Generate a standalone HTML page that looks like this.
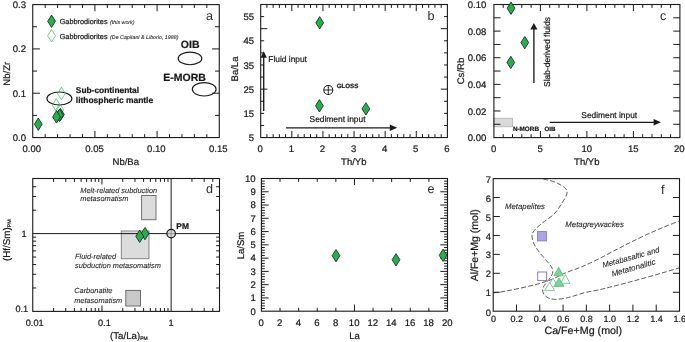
<!DOCTYPE html>
<html lang="en">
<head>
<meta charset="utf-8">
<title>Gabbrodiorites trace-element diagrams</title>
<style>
html,body{margin:0;padding:0;background:#fff;}
body{width:685px;height:342px;overflow:hidden;}
svg{display:block;will-change:transform;font-family:'Liberation Sans', sans-serif;fill:#1a1a1a;text-rendering:geometricPrecision;}
text{stroke:#1a1a1a;stroke-width:0.22px;}
.it{stroke-width:0.1px;fill:#2a2a2a;stroke:#2a2a2a;}
.pl{stroke:none;fill:#2c2c2c;}
</style>
</head>
<body>
<svg width="685" height="342" viewBox="0 0 685 342">
<rect width="685" height="342" fill="#fff"/>
<defs><filter id="soft" x="0" y="0" width="100%" height="100%" filterUnits="userSpaceOnUse" color-interpolation-filters="sRGB"><feGaussianBlur stdDeviation="0.33"/></filter></defs>
<g filter="url(#soft)">
<path d="M45.18 137.55L45.18 134.15M45.18 4.6L45.18 8M57.62 137.55L57.62 134.15M57.62 4.6L57.62 8M70.05 137.55L70.05 134.15M70.05 4.6L70.05 8M82.48 137.55L82.48 134.15M82.48 4.6L82.48 8M107.35 137.55L107.35 134.15M107.35 4.6L107.35 8M119.78 137.55L119.78 134.15M119.78 4.6L119.78 8M132.22 137.55L132.22 134.15M132.22 4.6L132.22 8M144.65 137.55L144.65 134.15M144.65 4.6L144.65 8M169.52 137.55L169.52 134.15M169.52 4.6L169.52 8M181.95 137.55L181.95 134.15M181.95 4.6L181.95 8M194.38 137.55L194.38 134.15M194.38 4.6L194.38 8M206.82 137.55L206.82 134.15M206.82 4.6L206.82 8M94.92 137.55L94.92 130.95M94.92 4.6L94.92 11.2M157.08 137.55L157.08 130.95M157.08 4.6L157.08 11.2M32.75 115.39L36.95 115.39M219.25 115.39L215.05 115.39M32.75 71.08L36.95 71.08M219.25 71.08L215.05 71.08M32.75 26.76L36.95 26.76M219.25 26.76L215.05 26.76M32.75 93.23L39.95 93.23M219.25 93.23L212.05 93.23M32.75 48.92L39.95 48.92M219.25 48.92L212.05 48.92" stroke="#1a1a1a" stroke-width="1" fill="none"/>
<rect x="32.75" y="4.6" width="186.5" height="132.95" fill="none" stroke="#1a1a1a" stroke-width="1.1"/>
<text x="31.8" y="151.6" font-size="9.55" text-anchor="middle">0.00</text>
<text x="94.5" y="151.6" font-size="9.55" text-anchor="middle">0.05</text>
<text x="156.4" y="151.6" font-size="9.55" text-anchor="middle">0.10</text>
<text x="218.3" y="151.6" font-size="9.55" text-anchor="middle">0.15</text>
<text x="26" y="140.95" font-size="9.55" text-anchor="end">0.0</text>
<text x="26" y="96.63" font-size="9.55" text-anchor="end">0.1</text>
<text x="26" y="52.32" font-size="9.55" text-anchor="end">0.2</text>
<text x="26" y="8" font-size="9.55" text-anchor="end">0.3</text>
<text x="125.8" y="165.1" font-size="9.55" text-anchor="middle">Nb/Ba</text>
<text x="10" y="73.7" font-size="9.55" text-anchor="middle" transform="rotate(-90 10 73.7)">Nb/Zr</text>
<text x="206" y="19.7" font-size="12.6" class="pl">a</text>
<path d="M51.55 15.05L55.45 21.25L51.55 27.45L47.65 21.25Z" fill="#22b14c" stroke="#1c1c1c" stroke-width="0.8"/>
<path d="M51.55 29.6L55.45 35.8L51.55 42L47.65 35.8Z" fill="#fff" stroke="#3cb860" stroke-width="0.7"/>
<text x="59.7" y="24" font-size="7.3">Gabbrodiorites</text>
<text x="59.7" y="38.9" font-size="7.3">Gabbrodiorites</text>
<text x="110.1" y="24" font-size="5.3" font-style="italic" class="it">(this work)</text>
<text x="110.1" y="38.9" font-size="5.3" font-style="italic" class="it">(De Capitani &amp; Liborio, 1988)</text>
<ellipse cx="190" cy="58.4" rx="11.8" ry="6.3" fill="none" stroke="#1a1a1a" stroke-width="1.15"/>
<ellipse cx="204.2" cy="89.3" rx="11.9" ry="6.7" fill="none" stroke="#1a1a1a" stroke-width="1.15"/>
<ellipse cx="59.4" cy="98.5" rx="12.5" ry="6.5" fill="none" stroke="#1a1a1a" stroke-width="1.15"/>
<text x="180.8" y="47.6" font-size="10.5" font-weight="bold">OIB</text>
<text x="163.3" y="80.7" font-size="10.5" font-weight="bold">E-MORB</text>
<text x="75.8" y="93.2" font-size="8.4" font-weight="bold">Sub-continental</text>
<text x="75.8" y="103.3" font-size="8.45" font-weight="bold">lithospheric mantle</text>
<path d="M61.4 87.3L65.3 93.5L61.4 99.7L57.5 93.5Z" fill="none" stroke="#3cb860" stroke-width="0.7"/>
<path d="M56.2 98.8L60.1 105L56.2 111.2L52.3 105Z" fill="none" stroke="#3cb860" stroke-width="0.7"/>
<path d="M59.8 103.7L63.7 109.9L59.8 116.1L55.9 109.9Z" fill="none" stroke="#3cb860" stroke-width="0.7"/>
<path d="M38.3 118L42.2 124.2L38.3 130.4L34.4 124.2Z" fill="#22b14c" stroke="#1c1c1c" stroke-width="0.8"/>
<path d="M60.4 108.3L64.3 114.5L60.4 120.7L56.5 114.5Z" fill="#22b14c" stroke="#1c1c1c" stroke-width="0.8"/>
<path d="M59.5 109.1L63.4 115.3L59.5 121.5L55.6 115.3Z" fill="#22b14c" stroke="#1c1c1c" stroke-width="0.8"/>
<path d="M56.5 110.7L60.4 116.9L56.5 123.1L52.6 116.9Z" fill="#22b14c" stroke="#1c1c1c" stroke-width="0.8"/>
<path d="M266.92 137.55L266.92 134.15M266.92 4.5L266.92 7.9M273.15 137.55L273.15 134.15M273.15 4.5L273.15 7.9M279.37 137.55L279.37 134.15M279.37 4.5L279.37 7.9M285.59 137.55L285.59 134.15M285.59 4.5L285.59 7.9M298.04 137.55L298.04 134.15M298.04 4.5L298.04 7.9M304.26 137.55L304.26 134.15M304.26 4.5L304.26 7.9M310.49 137.55L310.49 134.15M310.49 4.5L310.49 7.9M316.71 137.55L316.71 134.15M316.71 4.5L316.71 7.9M329.16 137.55L329.16 134.15M329.16 4.5L329.16 7.9M335.38 137.55L335.38 134.15M335.38 4.5L335.38 7.9M341.6 137.55L341.6 134.15M341.6 4.5L341.6 7.9M347.83 137.55L347.83 134.15M347.83 4.5L347.83 7.9M360.27 137.55L360.27 134.15M360.27 4.5L360.27 7.9M366.5 137.55L366.5 134.15M366.5 4.5L366.5 7.9M372.72 137.55L372.72 134.15M372.72 4.5L372.72 7.9M378.94 137.55L378.94 134.15M378.94 4.5L378.94 7.9M391.39 137.55L391.39 134.15M391.39 4.5L391.39 7.9M397.61 137.55L397.61 134.15M397.61 4.5L397.61 7.9M403.84 137.55L403.84 134.15M403.84 4.5L403.84 7.9M410.06 137.55L410.06 134.15M410.06 4.5L410.06 7.9M422.51 137.55L422.51 134.15M422.51 4.5L422.51 7.9M428.73 137.55L428.73 134.15M428.73 4.5L428.73 7.9M434.95 137.55L434.95 134.15M434.95 4.5L434.95 7.9M441.18 137.55L441.18 134.15M441.18 4.5L441.18 7.9M291.82 137.55L291.82 130.95M291.82 4.5L291.82 11.1M322.93 137.55L322.93 130.95M322.93 4.5L322.93 11.1M354.05 137.55L354.05 130.95M354.05 4.5L354.05 11.1M385.17 137.55L385.17 130.95M385.17 4.5L385.17 11.1M416.28 137.55L416.28 130.95M416.28 4.5L416.28 11.1M260.7 125.45L264.1 125.45M447.4 125.45L444 125.45M260.7 113.36L264.1 113.36M447.4 113.36L444 113.36M260.7 101.26L264.1 101.26M447.4 101.26L444 101.26M260.7 77.07L264.1 77.07M447.4 77.07L444 77.07M260.7 64.98L264.1 64.98M447.4 64.98L444 64.98M260.7 52.88L264.1 52.88M447.4 52.88L444 52.88M260.7 40.79L264.1 40.79M447.4 40.79L444 40.79M260.7 16.6L264.1 16.6M447.4 16.6L444 16.6M260.7 89.17L267.3 89.17M447.4 89.17L440.8 89.17M260.7 28.69L267.3 28.69M447.4 28.69L440.8 28.69" stroke="#1a1a1a" stroke-width="1" fill="none"/>
<rect x="260.7" y="4.5" width="186.7" height="133.05" fill="none" stroke="#1a1a1a" stroke-width="1.1"/>
<text x="260.2" y="151.6" font-size="9.55" text-anchor="middle">0</text>
<text x="291.32" y="151.6" font-size="9.55" text-anchor="middle">1</text>
<text x="322.43" y="151.6" font-size="9.55" text-anchor="middle">2</text>
<text x="353.55" y="151.6" font-size="9.55" text-anchor="middle">3</text>
<text x="384.67" y="151.6" font-size="9.55" text-anchor="middle">4</text>
<text x="415.78" y="151.6" font-size="9.55" text-anchor="middle">5</text>
<text x="446.9" y="151.6" font-size="9.55" text-anchor="middle">6</text>
<text x="254" y="141.15" font-size="9.55" text-anchor="end">5</text>
<text x="254" y="116.96" font-size="9.55" text-anchor="end">15</text>
<text x="254" y="92.77" font-size="9.55" text-anchor="end">25</text>
<text x="254" y="68.58" font-size="9.55" text-anchor="end">35</text>
<text x="254" y="44.39" font-size="9.55" text-anchor="end">45</text>
<text x="254" y="20.2" font-size="9.55" text-anchor="end">55</text>
<text x="353.8" y="165.1" font-size="9.55" text-anchor="middle">Th/Yb</text>
<text x="238" y="69" font-size="9.55" text-anchor="middle" transform="rotate(-90 238 69)">Ba/La</text>
<text x="427.4" y="19.7" font-size="12.6" class="pl">b</text>
<line x1="263.7" y1="111" x2="263.7" y2="56.8" stroke="#1a1a1a" stroke-width="1.35"/>
<path d="M263.7 51.3L260.5 57.8L266.9 57.8Z" fill="#1a1a1a"/>
<text x="268.3" y="61.9" font-size="8.4">Fluid input</text>
<line x1="285.9" y1="127.8" x2="390.8" y2="127.8" stroke="#1a1a1a" stroke-width="1.2"/>
<path d="M397.2 127.8L389.8 124.6L389.8 131Z" fill="#1a1a1a"/>
<text x="309.6" y="122.2" font-size="8.4">Sediment input</text>
<circle cx="328.3" cy="90" r="4.5" fill="#fff" stroke="#1a1a1a" stroke-width="1.05"/>
<line x1="323.8" y1="90" x2="332.8" y2="90" stroke="#1a1a1a" stroke-width="0.9"/>
<line x1="328.3" y1="85.5" x2="328.3" y2="94.5" stroke="#1a1a1a" stroke-width="0.9"/>
<text x="336.7" y="88" font-size="6.2" font-weight="bold">GLOSS</text>
<path d="M319.7 16.6L323.6 22.8L319.7 29L315.8 22.8Z" fill="#22b14c" stroke="#1c1c1c" stroke-width="0.8"/>
<path d="M319.4 99.6L323.3 105.8L319.4 112L315.5 105.8Z" fill="#22b14c" stroke="#1c1c1c" stroke-width="0.8"/>
<path d="M365.9 102.7L369.8 108.9L365.9 115.1L362 108.9Z" fill="#22b14c" stroke="#1c1c1c" stroke-width="0.8"/>
<rect x="493.9" y="118.2" width="18.5" height="8.6" fill="#dadada" stroke="#a8a8a8" stroke-width="0.7"/>
<path d="M503.2 137.6L503.2 134.2M503.2 4.5L503.2 7.9M512.5 137.6L512.5 134.2M512.5 4.5L512.5 7.9M521.8 137.6L521.8 134.2M521.8 4.5L521.8 7.9M531.1 137.6L531.1 134.2M531.1 4.5L531.1 7.9M549.7 137.6L549.7 134.2M549.7 4.5L549.7 7.9M559 137.6L559 134.2M559 4.5L559 7.9M568.3 137.6L568.3 134.2M568.3 4.5L568.3 7.9M577.6 137.6L577.6 134.2M577.6 4.5L577.6 7.9M596.2 137.6L596.2 134.2M596.2 4.5L596.2 7.9M605.5 137.6L605.5 134.2M605.5 4.5L605.5 7.9M614.8 137.6L614.8 134.2M614.8 4.5L614.8 7.9M624.1 137.6L624.1 134.2M624.1 4.5L624.1 7.9M642.7 137.6L642.7 134.2M642.7 4.5L642.7 7.9M652 137.6L652 134.2M652 4.5L652 7.9M661.3 137.6L661.3 134.2M661.3 4.5L661.3 7.9M670.6 137.6L670.6 134.2M670.6 4.5L670.6 7.9M540.4 137.6L540.4 131M540.4 4.5L540.4 11.1M586.9 137.6L586.9 131M586.9 4.5L586.9 11.1M633.4 137.6L633.4 131M633.4 4.5L633.4 11.1M493.9 124.29L500.5 124.29M679.9 124.29L673.3 124.29M493.9 110.98L500.5 110.98M679.9 110.98L673.3 110.98M493.9 97.67L500.5 97.67M679.9 97.67L673.3 97.67M493.9 84.36L500.5 84.36M679.9 84.36L673.3 84.36M493.9 71.05L500.5 71.05M679.9 71.05L673.3 71.05M493.9 57.74L500.5 57.74M679.9 57.74L673.3 57.74M493.9 44.43L500.5 44.43M679.9 44.43L673.3 44.43M493.9 31.12L500.5 31.12M679.9 31.12L673.3 31.12M493.9 17.81L500.5 17.81M679.9 17.81L673.3 17.81" stroke="#1a1a1a" stroke-width="1" fill="none"/>
<rect x="493.9" y="4.5" width="186" height="133.1" fill="none" stroke="#1a1a1a" stroke-width="1.1"/>
<text x="493.7" y="151.6" font-size="9.55" text-anchor="middle">0</text>
<text x="540.2" y="151.6" font-size="9.55" text-anchor="middle">5</text>
<text x="586.7" y="151.6" font-size="9.55" text-anchor="middle">10</text>
<text x="633.2" y="151.6" font-size="9.55" text-anchor="middle">15</text>
<text x="684.6" y="151.6" font-size="9.55" text-anchor="end">20</text>
<text x="486.4" y="141.2" font-size="9.55" text-anchor="end">0.00</text>
<text x="486.4" y="114.58" font-size="9.55" text-anchor="end">0.02</text>
<text x="486.4" y="87.96" font-size="9.55" text-anchor="end">0.04</text>
<text x="486.4" y="61.34" font-size="9.55" text-anchor="end">0.06</text>
<text x="486.4" y="34.72" font-size="9.55" text-anchor="end">0.08</text>
<text x="486.4" y="8.1" font-size="9.55" text-anchor="end">0.10</text>
<text x="586.8" y="165.1" font-size="9.55" text-anchor="middle">Th/Yb</text>
<text x="464.2" y="71" font-size="9.55" text-anchor="middle" transform="rotate(-90 464.2 71)">Cs/Rb</text>
<text x="660.1" y="19.7" font-size="12.6" class="pl">c</text>
<line x1="533.9" y1="82.9" x2="533.9" y2="28.4" stroke="#1a1a1a" stroke-width="1.35"/>
<path d="M533.9 22.9L530.3 29.4L537.5 29.4Z" fill="#1a1a1a"/>
<text x="550.1" y="87" font-size="8.5" transform="rotate(-90 550.1 87)">Slab-derived fluids</text>
<line x1="549.7" y1="122.3" x2="654.6" y2="122.3" stroke="#1a1a1a" stroke-width="1.2"/>
<path d="M661 122.3L653.6 119.1L653.6 125.5Z" fill="#1a1a1a"/>
<text x="581.3" y="117.6" font-size="8.4">Sediment input</text>
<text x="512.9" y="130.5" font-size="6.35" font-weight="bold">N-MORB</text>
<text x="544.5" y="130.5" font-size="6.2" font-weight="bold">OIB</text>
<path d="M511 2L514.9 8.2L511 14.4L507.1 8.2Z" fill="#22b14c" stroke="#1c1c1c" stroke-width="0.8"/>
<path d="M524.8 36.4L528.7 42.6L524.8 48.8L520.9 42.6Z" fill="#22b14c" stroke="#1c1c1c" stroke-width="0.8"/>
<path d="M510.8 56.2L514.7 62.4L510.8 68.6L506.9 62.4Z" fill="#22b14c" stroke="#1c1c1c" stroke-width="0.8"/>
<rect x="141.6" y="195.5" width="14.4" height="24.2" fill="#dcdcdc" stroke="#6c6c6c" stroke-width="0.95"/>
<rect x="121.3" y="231.0" width="27.7" height="27.7" fill="#dcdcdc" stroke="#7a7a7a" stroke-width="0.9"/>
<rect x="125.8" y="290.4" width="14.7" height="15.6" fill="#c9c9c9" stroke="#666" stroke-width="0.95"/>
<path d="M53.58 311.4L53.58 308M53.58 178.5L53.58 181.9M65.77 311.4L65.77 308M65.77 178.5L65.77 181.9M74.41 311.4L74.41 308M74.41 178.5L74.41 181.9M81.12 311.4L81.12 308M81.12 178.5L81.12 181.9M86.6 311.4L86.6 308M86.6 178.5L86.6 181.9M91.23 311.4L91.23 308M91.23 178.5L91.23 181.9M95.24 311.4L95.24 308M95.24 178.5L95.24 181.9M98.78 311.4L98.78 308M98.78 178.5L98.78 181.9M122.78 311.4L122.78 308M122.78 178.5L122.78 181.9M134.97 311.4L134.97 308M134.97 178.5L134.97 181.9M143.61 311.4L143.61 308M143.61 178.5L143.61 181.9M150.32 311.4L150.32 308M150.32 178.5L150.32 181.9M155.8 311.4L155.8 308M155.8 178.5L155.8 181.9M160.43 311.4L160.43 308M160.43 178.5L160.43 181.9M164.44 311.4L164.44 308M164.44 178.5L164.44 181.9M167.98 311.4L167.98 308M167.98 178.5L167.98 181.9M191.98 311.4L191.98 308M191.98 178.5L191.98 181.9M204.17 311.4L204.17 308M204.17 178.5L204.17 181.9M212.81 311.4L212.81 308M212.81 178.5L212.81 181.9M101.95 311.4L101.95 305.4M101.95 178.5L101.95 184.5M32.75 287.98L36.15 287.98M219.5 287.98L216.1 287.98M32.75 274.28L36.15 274.28M219.5 274.28L216.1 274.28M32.75 264.56L36.15 264.56M219.5 264.56L216.1 264.56M32.75 257.02L36.15 257.02M219.5 257.02L216.1 257.02M32.75 250.86L36.15 250.86M219.5 250.86L216.1 250.86M32.75 245.65L36.15 245.65M219.5 245.65L216.1 245.65M32.75 241.14L36.15 241.14M219.5 241.14L216.1 241.14M32.75 237.16L36.15 237.16M219.5 237.16L216.1 237.16M32.75 210.18L36.15 210.18M219.5 210.18L216.1 210.18M32.75 196.48L36.15 196.48M219.5 196.48L216.1 196.48M32.75 186.76L36.15 186.76M219.5 186.76L216.1 186.76" stroke="#1a1a1a" stroke-width="1" fill="none"/>
<line x1="171.15" y1="178.5" x2="171.15" y2="311.4" stroke="#1a1a1a" stroke-width="1"/>
<line x1="32.75" y1="233.6" x2="219.5" y2="233.6" stroke="#1a1a1a" stroke-width="1"/>
<circle cx="171.15" cy="233.6" r="4.3" fill="#c8c8c8" fill-opacity="0.72" stroke="#1a1a1a" stroke-width="1.2"/>
<rect x="32.75" y="178.5" width="186.75" height="132.9" fill="none" stroke="#1a1a1a" stroke-width="1.1"/>
<text x="34.7" y="325.6" font-size="9.2" text-anchor="middle">0.01</text>
<text x="104.4" y="325.6" font-size="9.2" text-anchor="middle">0.1</text>
<text x="171" y="325.6" font-size="9.2" text-anchor="middle">1</text>
<text x="26.5" y="236.5" font-size="9.2" text-anchor="end">1</text>
<text x="28.2" y="311.9" font-size="9.2" text-anchor="end">0.1</text>
<text x="110" y="338.8" font-size="9.7">(Ta/La)<tspan font-size="5" dy="1.3">PM</tspan></text>
<text x="10" y="261" font-size="9.8" transform="rotate(-90 10 261)">(Hf/Sm)<tspan font-size="5.2" dy="1.3">PM</tspan></text>
<text x="205.9" y="193.4" font-size="12.6" class="pl">d</text>
<text x="80.3" y="192.5" font-size="7.4" font-style="italic" class="it">Melt-related subduction</text>
<text x="80.3" y="201" font-size="7.4" font-style="italic" class="it">metasomatism</text>
<text x="75" y="259.3" font-size="7.4" font-style="italic" class="it">Fluid-related</text>
<text x="75" y="268" font-size="7.4" font-style="italic" class="it">subduction metasomatism</text>
<text x="74.2" y="293.4" font-size="7.4" font-style="italic" class="it">Carbonatite</text>
<text x="74.2" y="302.6" font-size="7.4" font-style="italic" class="it">metasomatism</text>
<text x="176.3" y="229.1" font-size="8.4" font-weight="bold">PM</text>
<path d="M145 227.4L148.9 233.6L145 239.8L141.1 233.6Z" fill="#22b14c" stroke="#1c1c1c" stroke-width="0.8"/>
<path d="M139.7 230.1L143.6 236.3L139.7 242.5L135.8 236.3Z" fill="#22b14c" stroke="#1c1c1c" stroke-width="0.8"/>
<path d="M280.01 311.2L280.01 307.8M280.01 178.5L280.01 181.9M298.62 311.2L298.62 307.8M298.62 178.5L298.62 181.9M317.23 311.2L317.23 307.8M317.23 178.5L317.23 181.9M335.84 311.2L335.84 307.8M335.84 178.5L335.84 181.9M373.06 311.2L373.06 307.8M373.06 178.5L373.06 181.9M391.67 311.2L391.67 307.8M391.67 178.5L391.67 181.9M410.28 311.2L410.28 307.8M410.28 178.5L410.28 181.9M428.89 311.2L428.89 307.8M428.89 178.5L428.89 181.9M354.45 311.2L354.45 304.6M354.45 178.5L354.45 185.1M261.4 308.55L264.8 308.55M447.5 308.55L444.1 308.55M261.4 305.89L264.8 305.89M447.5 305.89L444.1 305.89M261.4 303.24L264.8 303.24M447.5 303.24L444.1 303.24M261.4 300.58L264.8 300.58M447.5 300.58L444.1 300.58M261.4 295.28L264.8 295.28M447.5 295.28L444.1 295.28M261.4 292.62L264.8 292.62M447.5 292.62L444.1 292.62M261.4 289.97L264.8 289.97M447.5 289.97L444.1 289.97M261.4 287.31L264.8 287.31M447.5 287.31L444.1 287.31M261.4 282.01L264.8 282.01M447.5 282.01L444.1 282.01M261.4 279.35L264.8 279.35M447.5 279.35L444.1 279.35M261.4 276.7L264.8 276.7M447.5 276.7L444.1 276.7M261.4 274.04L264.8 274.04M447.5 274.04L444.1 274.04M261.4 268.74L264.8 268.74M447.5 268.74L444.1 268.74M261.4 266.08L264.8 266.08M447.5 266.08L444.1 266.08M261.4 263.43L264.8 263.43M447.5 263.43L444.1 263.43M261.4 260.77L264.8 260.77M447.5 260.77L444.1 260.77M261.4 255.47L264.8 255.47M447.5 255.47L444.1 255.47M261.4 252.81L264.8 252.81M447.5 252.81L444.1 252.81M261.4 250.16L264.8 250.16M447.5 250.16L444.1 250.16M261.4 247.5L264.8 247.5M447.5 247.5L444.1 247.5M261.4 242.2L264.8 242.2M447.5 242.2L444.1 242.2M261.4 239.54L264.8 239.54M447.5 239.54L444.1 239.54M261.4 236.89L264.8 236.89M447.5 236.89L444.1 236.89M261.4 234.23L264.8 234.23M447.5 234.23L444.1 234.23M261.4 228.93L264.8 228.93M447.5 228.93L444.1 228.93M261.4 226.27L264.8 226.27M447.5 226.27L444.1 226.27M261.4 223.62L264.8 223.62M447.5 223.62L444.1 223.62M261.4 220.96L264.8 220.96M447.5 220.96L444.1 220.96M261.4 215.66L264.8 215.66M447.5 215.66L444.1 215.66M261.4 213L264.8 213M447.5 213L444.1 213M261.4 210.35L264.8 210.35M447.5 210.35L444.1 210.35M261.4 207.69L264.8 207.69M447.5 207.69L444.1 207.69M261.4 202.39L264.8 202.39M447.5 202.39L444.1 202.39M261.4 199.73L264.8 199.73M447.5 199.73L444.1 199.73M261.4 197.08L264.8 197.08M447.5 197.08L444.1 197.08M261.4 194.42L264.8 194.42M447.5 194.42L444.1 194.42M261.4 189.12L264.8 189.12M447.5 189.12L444.1 189.12M261.4 186.46L264.8 186.46M447.5 186.46L444.1 186.46M261.4 183.81L264.8 183.81M447.5 183.81L444.1 183.81M261.4 181.15L264.8 181.15M447.5 181.15L444.1 181.15M261.4 297.93L268.6 297.93M447.5 297.93L440.3 297.93M261.4 284.66L268.6 284.66M447.5 284.66L440.3 284.66M261.4 271.39L268.6 271.39M447.5 271.39L440.3 271.39M261.4 258.12L268.6 258.12M447.5 258.12L440.3 258.12M261.4 244.85L268.6 244.85M447.5 244.85L440.3 244.85M261.4 231.58L268.6 231.58M447.5 231.58L440.3 231.58M261.4 218.31L268.6 218.31M447.5 218.31L440.3 218.31M261.4 205.04L268.6 205.04M447.5 205.04L440.3 205.04M261.4 191.77L268.6 191.77M447.5 191.77L440.3 191.77" stroke="#1a1a1a" stroke-width="1" fill="none"/>
<rect x="261.4" y="178.5" width="186.1" height="132.7" fill="none" stroke="#1a1a1a" stroke-width="1.1"/>
<text x="261.1" y="325.9" font-size="9.55" text-anchor="middle">0</text>
<text x="279.71" y="325.9" font-size="9.55" text-anchor="middle">2</text>
<text x="298.32" y="325.9" font-size="9.55" text-anchor="middle">4</text>
<text x="316.93" y="325.9" font-size="9.55" text-anchor="middle">6</text>
<text x="335.54" y="325.9" font-size="9.55" text-anchor="middle">8</text>
<text x="354.15" y="325.9" font-size="9.55" text-anchor="middle">10</text>
<text x="372.76" y="325.9" font-size="9.55" text-anchor="middle">12</text>
<text x="391.37" y="325.9" font-size="9.55" text-anchor="middle">14</text>
<text x="409.98" y="325.9" font-size="9.55" text-anchor="middle">16</text>
<text x="428.59" y="325.9" font-size="9.55" text-anchor="middle">18</text>
<text x="447.2" y="325.9" font-size="9.55" text-anchor="middle">20</text>
<text x="255.7" y="314.5" font-size="9.55" text-anchor="end">0</text>
<text x="255.7" y="301.23" font-size="9.55" text-anchor="end">1</text>
<text x="255.7" y="287.96" font-size="9.55" text-anchor="end">2</text>
<text x="255.7" y="274.69" font-size="9.55" text-anchor="end">3</text>
<text x="255.7" y="261.42" font-size="9.55" text-anchor="end">4</text>
<text x="255.7" y="248.15" font-size="9.55" text-anchor="end">5</text>
<text x="255.7" y="234.88" font-size="9.55" text-anchor="end">6</text>
<text x="255.7" y="221.61" font-size="9.55" text-anchor="end">7</text>
<text x="255.7" y="208.34" font-size="9.55" text-anchor="end">8</text>
<text x="255.7" y="195.07" font-size="9.55" text-anchor="end">9</text>
<text x="255.7" y="181.8" font-size="9.55" text-anchor="end">10</text>
<text x="354.6" y="339.3" font-size="9.55" text-anchor="middle">La</text>
<text x="244.3" y="245.5" font-size="9.55" text-anchor="middle" transform="rotate(-90 244.3 245.5)">La/Sm</text>
<text x="427.4" y="193.4" font-size="12.6" class="pl">e</text>
<path d="M336 249.5L339.9 255.7L336 261.9L332.1 255.7Z" fill="#22b14c" stroke="#1c1c1c" stroke-width="0.8"/>
<path d="M396 253.6L399.9 259.8L396 266L392.1 259.8Z" fill="#22b14c" stroke="#1c1c1c" stroke-width="0.8"/>
<path d="M443.1 249.1L447 255.3L443.1 261.5L439.2 255.3Z" fill="#22b14c" stroke="#1c1c1c" stroke-width="0.8"/>
<path d="M543.2 178.9C545.33 179.5 552.28 180.9 556 182.5C559.72 184.1 563.7 186.58 565.5 188.5C567.3 190.42 567.38 191.58 566.8 194C566.22 196.42 564.18 199.6 562 203C559.82 206.4 557.2 210.9 553.7 214.4C550.2 217.9 544.42 221.07 541 224C537.58 226.93 534.67 229.67 533.2 232C531.73 234.33 531.98 235.83 532.2 238C532.42 240.17 533.33 242.67 534.5 245C535.67 247.33 537.23 249.42 539.2 252C541.17 254.58 544.25 258 546.3 260.5C548.35 263 550.42 265.13 551.5 267C552.58 268.87 552.88 270.12 552.8 271.7C552.72 273.28 552.05 274.7 551 276.5C549.95 278.3 547.77 280.75 546.5 282.5C545.23 284.25 544.02 285.55 543.4 287C542.78 288.45 542.62 289.87 542.8 291.2C542.98 292.53 543.55 293.87 544.5 295C545.45 296.13 546.88 297.28 548.5 298C550.12 298.72 551.95 299.17 554.2 299.3C556.45 299.43 559.22 299.22 562 298.8C564.78 298.38 567.08 297.83 570.9 296.8C574.72 295.77 580.05 293.8 584.9 292.6C589.75 291.4 595.42 290.62 600 289.6C604.58 288.58 607.73 287.68 612.4 286.5C617.07 285.32 622.73 283.9 628 282.5C633.27 281.1 638.33 279.68 644 278.1C649.67 276.52 656.08 274.72 662 273C667.92 271.28 676.58 268.67 679.5 267.8" fill="none" stroke="#3a3a3a" stroke-width="0.82" stroke-dasharray="5 2.1"/>
<path d="M493.2 293C495.17 292.7 500.83 291.93 505 291.2C509.17 290.47 513.37 289.63 518.2 288.6C523.03 287.57 529.32 286.2 534 285C538.68 283.8 542.63 282.65 546.3 281.4C549.97 280.15 552.78 278.93 556 277.5C559.22 276.07 561.37 274.57 565.6 272.8C569.83 271.03 575.67 269.33 581.4 266.9C587.13 264.47 593.97 261.2 600 258.2C606.03 255.2 612.27 251.67 617.6 248.9C622.93 246.13 626.93 244.08 632 241.6C637.07 239.12 642.67 236.43 648 234C653.33 231.57 658.75 229.17 664 227C669.25 224.83 676.92 222 679.5 221" fill="none" stroke="#3a3a3a" stroke-width="0.82" stroke-dasharray="5 2.1"/>
<path d="M516.49 311.2L516.49 304.6M539.77 311.2L539.77 304.6M563.06 311.2L563.06 304.6M586.35 311.2L586.35 304.6M609.64 311.2L609.64 304.6M632.92 311.2L632.92 304.6M656.21 311.2L656.21 304.6M493.2 292.26L499.8 292.26M679.5 292.26L672.9 292.26M493.2 273.31L499.8 273.31M679.5 273.31L672.9 273.31M493.2 254.37L499.8 254.37M679.5 254.37L672.9 254.37M493.2 235.43L499.8 235.43M679.5 235.43L672.9 235.43M493.2 216.49L499.8 216.49M679.5 216.49L672.9 216.49M493.2 197.54L499.8 197.54M679.5 197.54L672.9 197.54" stroke="#1a1a1a" stroke-width="1" fill="none"/>
<rect x="493.2" y="178.6" width="186.3" height="132.6" fill="none" stroke="#1a1a1a" stroke-width="1.1"/>
<text x="493.4" y="321.8" font-size="9" text-anchor="middle">0</text>
<text x="516.69" y="321.8" font-size="9" text-anchor="middle">0.2</text>
<text x="539.98" y="321.8" font-size="9" text-anchor="middle">0.4</text>
<text x="563.26" y="321.8" font-size="9" text-anchor="middle">0.6</text>
<text x="586.55" y="321.8" font-size="9" text-anchor="middle">0.8</text>
<text x="609.84" y="321.8" font-size="9" text-anchor="middle">1.0</text>
<text x="633.12" y="321.8" font-size="9" text-anchor="middle">1.2</text>
<text x="656.41" y="321.8" font-size="9" text-anchor="middle">1.4</text>
<text x="679.7" y="321.8" font-size="9" text-anchor="middle">1.6</text>
<text x="491" y="316.2" font-size="9.4" text-anchor="end">0</text>
<text x="491" y="296.36" font-size="9.4" text-anchor="end">1</text>
<text x="491" y="277.41" font-size="9.4" text-anchor="end">2</text>
<text x="491" y="258.47" font-size="9.4" text-anchor="end">3</text>
<text x="491" y="239.53" font-size="9.4" text-anchor="end">4</text>
<text x="491" y="220.59" font-size="9.4" text-anchor="end">5</text>
<text x="491" y="201.64" font-size="9.4" text-anchor="end">6</text>
<text x="491" y="182.7" font-size="9.4" text-anchor="end">7</text>
<text x="583.2" y="333.7" font-size="10.7" text-anchor="middle">Ca/Fe+Mg (mol)</text>
<text x="478" y="245.3" font-size="10.5" text-anchor="middle" transform="rotate(-90 478 245.3)">Al/Fe+Mg (mol)</text>
<text x="661" y="194.4" font-size="12.8" class="pl">f</text>
<text x="505" y="209" font-size="7.8" font-style="italic" class="it">Metapelites</text>
<text x="565.3" y="226.8" font-size="7.8" font-style="italic" class="it">Metagreywackes</text>
<text x="603.2" y="267.8" font-size="7.8" font-style="italic" transform="rotate(-15.5 603.2 267.8)" class="it">Metabasaltic and</text>
<text x="612.4" y="276.7" font-size="8.1" font-style="italic" transform="rotate(-16 612.4 276.7)" class="it">Metatonalitic</text>
<rect x="537.6" y="231.6" width="9.0" height="9.3" fill="#aca6e6" stroke="#7d6fc4" stroke-width="0.8"/>
<rect x="537.7" y="272.0" width="9.0" height="8.6" fill="#fff" stroke="#8668c4" stroke-width="0.9"/>
<path d="M565.3 274.6L570 283.3L560.6 283.3Z" fill="#fff" stroke="#74cc8e" stroke-width="0.95"/>
<path d="M553 278L557.8 286.3L548.2 286.3Z" fill="#fff" stroke="#74cc8e" stroke-width="0.95"/>
<path d="M549.6 282.5L554.6 290.4L544.6 290.4Z" fill="#fff" stroke="#74cc8e" stroke-width="0.95"/>
<path d="M558.6 267.2L563.3 275.8L553.9 275.8Z" fill="#7fd09a" stroke="#62c47e" stroke-width="0.9"/>
<path d="M559 278L564 286.3L554 286.3Z" fill="#7fd09a" stroke="#62c47e" stroke-width="0.9"/>
</g>
</svg>
</body>
</html>
